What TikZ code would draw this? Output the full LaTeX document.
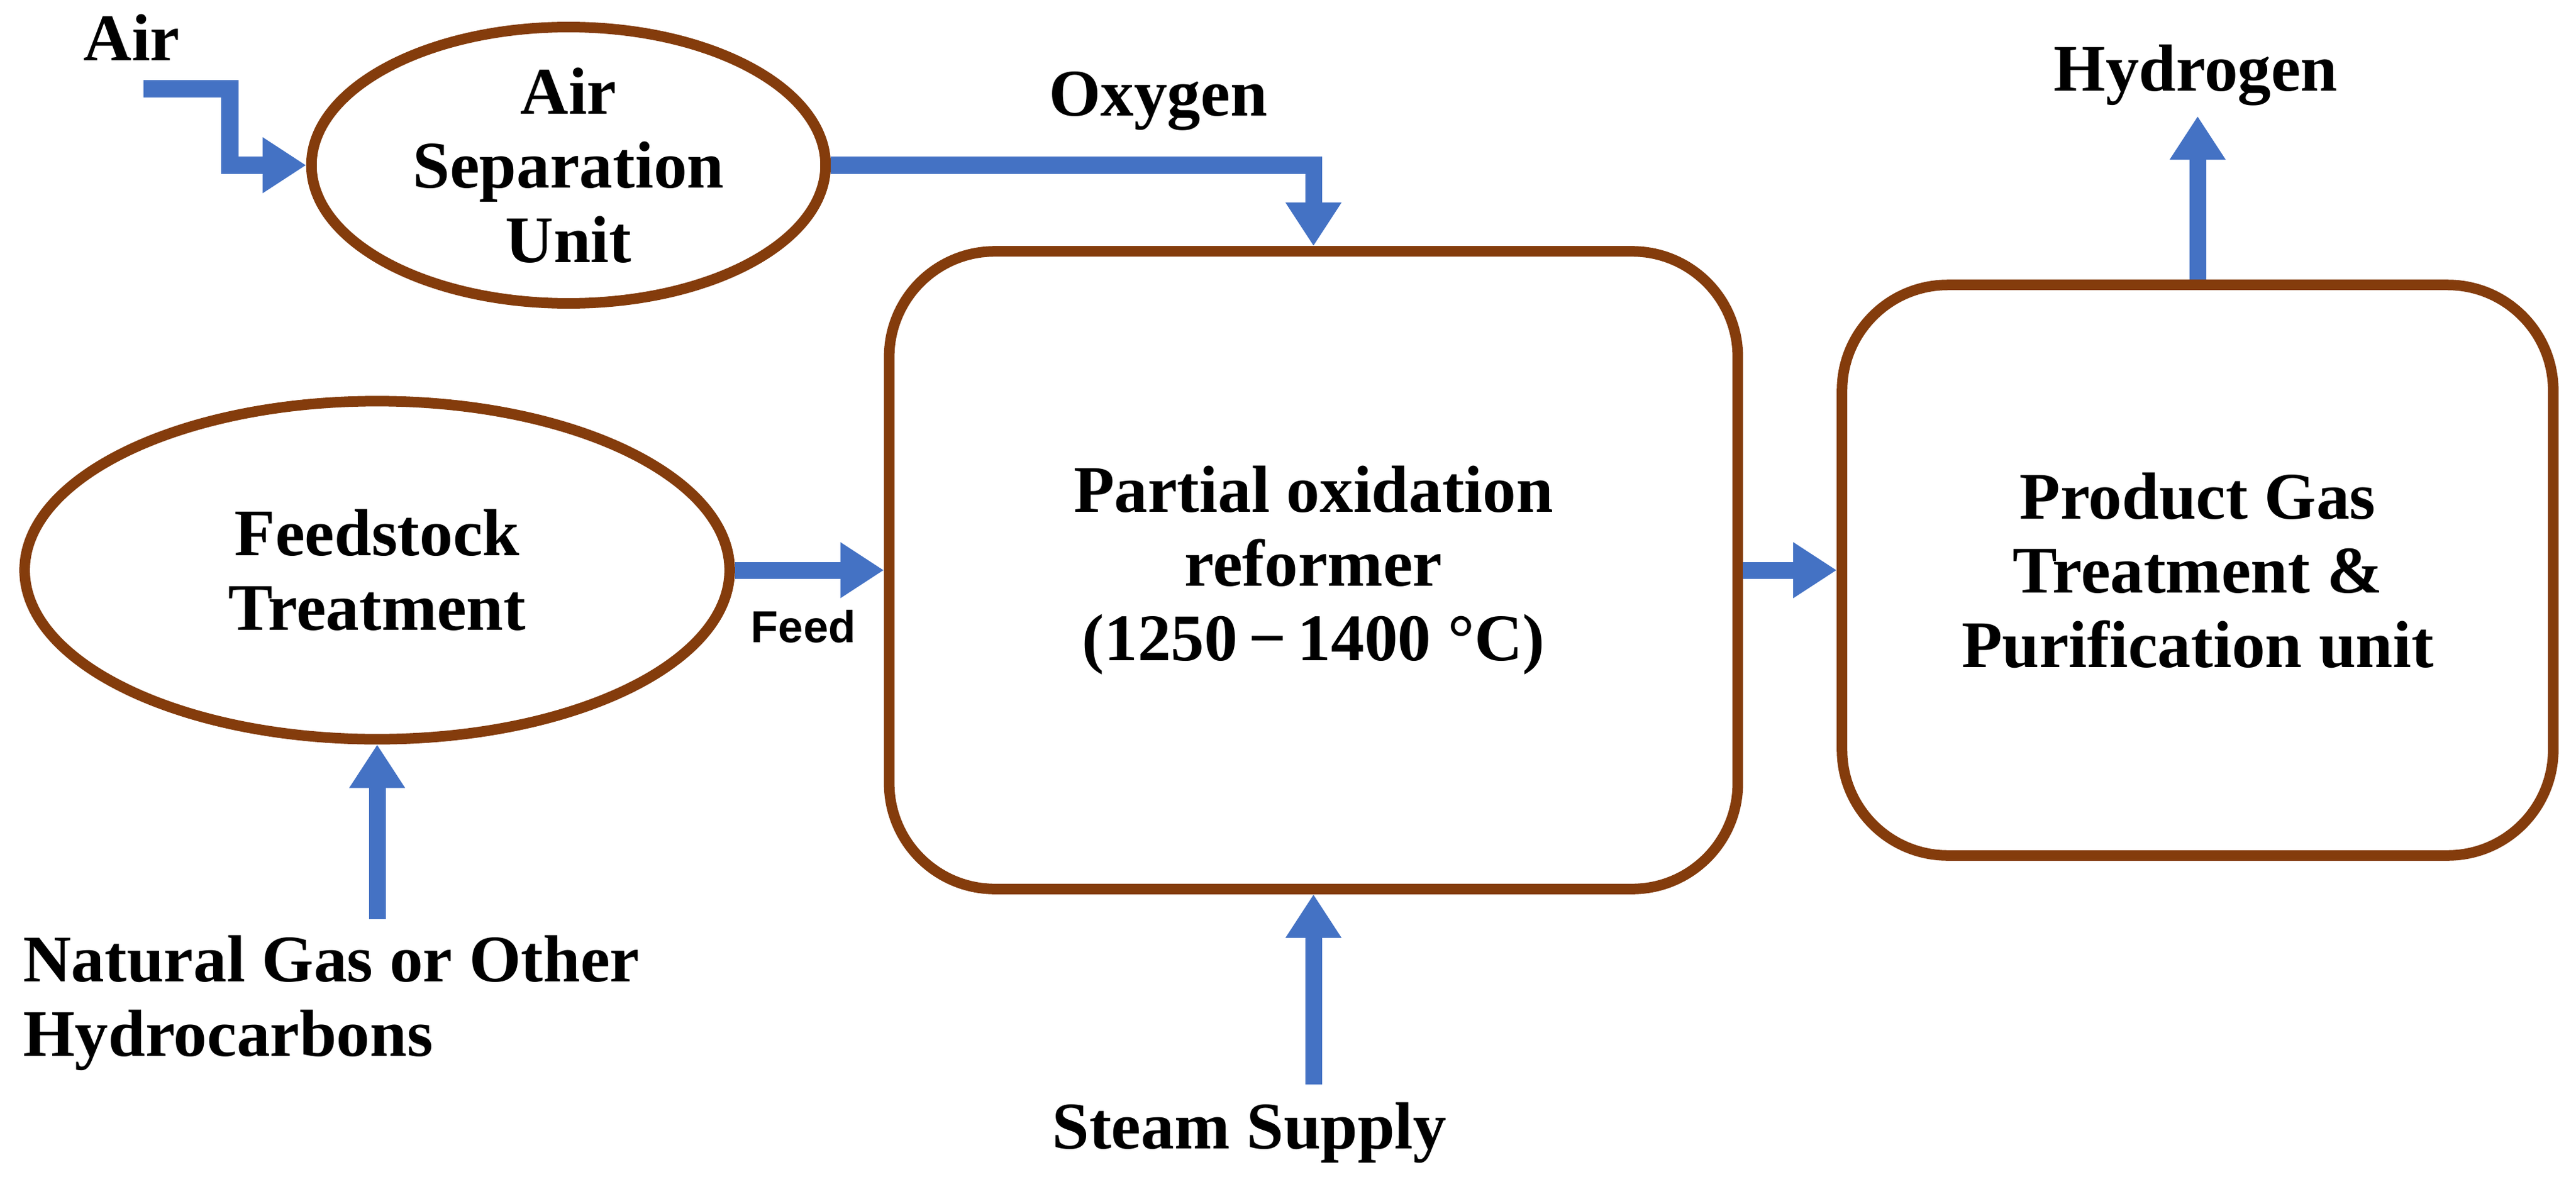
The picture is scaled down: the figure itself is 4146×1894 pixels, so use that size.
\documentclass[tikz,border=0pt]{standalone}
\usepackage{fontspec}
\setmainfont{Liberation Serif}
\newfontfamily\sansf{Liberation Sans}
\usetikzlibrary{shapes.geometric,arrows.meta}
\definecolor{flowblue}{HTML}{4472C4}
\definecolor{edgebrown}{HTML}{843C0C}
\begin{document}
\begin{tikzpicture}[x=0.01cm,y=-0.01cm,
  txt/.style={font=\fontsize{30.5}{34}\selectfont\bfseries, align=center, text=black},
  oval/.style={ellipse, draw=edgebrown, line width=0.17cm, inner sep=0pt, txt},
  box/.style={rectangle, rounded corners=1.7cm, draw=edgebrown, line width=0.17cm, inner sep=0pt, txt},
  flow/.style={draw=flowblue, line width=0.27cm, -{Triangle[width=0.85cm,length=0.7cm]}, flowblue}]
\useasboundingbox (0,0) rectangle (4146,1894);
\node[oval, minimum width=8.27cm, minimum height=4.36cm] (asu) at (915,266) {Air\\Separation\\Unit};
\node[oval, minimum width=11.34cm, minimum height=5.44cm] (feed) at (607,918) {Feedstock\\Treatment};
\node[box, minimum width=13.65cm, minimum height=10.26cm] (pox) at (2114,918) {Partial oxidation\\reformer\\(1250\,\textminus\,1400 °C)};
\node[box, minimum width=11.44cm, minimum height=9.18cm] (prod) at (3537,918) {Product Gas\\Treatment \&\\Purification unit};
\node[txt] (air) at (212,60) {Air};
\node[txt] (oxy) at (1864,163) {Oxygen};
\node[txt] (hyd) at (3534,121) {Hydrogen};
\node[txt, align=left, anchor=west] (ng) at (25,1615) {Natural Gas or Other\\Hydrocarbons};
\node[txt] (steam) at (2011,1824) {Steam Supply};
\node[font=\sansf\fontsize{20.5}{24}\selectfont\bfseries] (feedlbl) at (1293,1009) {Feed};
\coordinate (airin) at (231,143);
\coordinate (ngin) at (607,1480);
\coordinate (stin) at (2114,1746);
\coordinate (h2out) at (3537,187);
\draw[flow] (airin) -- (370,143) -- (370,266) -- (asu.west);
\draw[flow] (asu.east) -- (pox.north |- asu.east) -- (pox.north);
\draw[flow] (feed.east) -- (pox.west);
\draw[flow] (ngin) -- (feed.south);
\draw[flow] (stin) -- (pox.south);
\draw[flow] (pox.east) -- (prod.west);
\draw[flow] (prod.north) -- (h2out);
\end{tikzpicture}
\end{document}
